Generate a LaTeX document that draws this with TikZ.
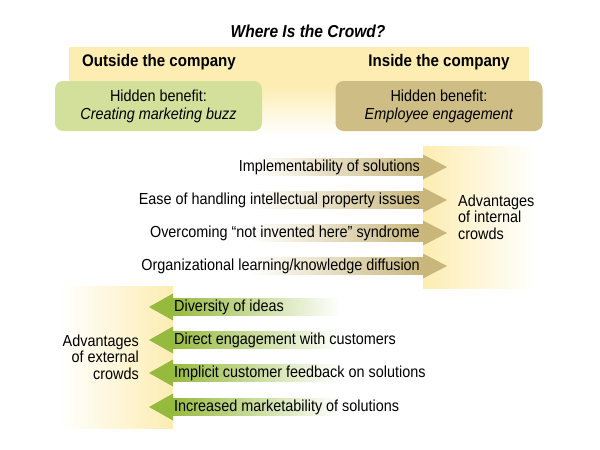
\documentclass[tikz,border=0pt]{standalone}
\usepackage{fontspec}
\setmainfont{Liberation Sans}[FakeStretch=0.9]
\definecolor{ylw}{RGB}{253,237,178}
\definecolor{grnbox}{RGB}{211,224,156}
\definecolor{tanbox}{RGB}{206,190,134}
\definecolor{tanarr}{RGB}{200,182,122}
\definecolor{grnarr}{RGB}{150,186,62}
\begin{document}
\begin{tikzpicture}[x=1pt,y=-1pt,
  txt/.style={font=\fontsize{16}{18}\selectfont, inner sep=0pt},
  hdr/.style={font=\fontsize{16.8}{18}\selectfont\bfseries, inner sep=0pt},
  hbox/.style={rounded corners=8pt, minimum width=207pt, minimum height=50pt, align=center,
    font=\fontsize{16}{18}\selectfont, inner sep=0pt}]
\useasboundingbox (0,0) rectangle (600,450);
\fill[white] (0,0) rectangle (600,450);
% header band
\fill[ylw] (69,47) rectangle (529,86);
\shade[top color=ylw,bottom color=white] (69,85.5) rectangle (529,135);
% title and headers
\node[font=\fontsize{17.3}{18}\selectfont\bfseries\itshape, inner sep=0pt] (title) at (308,31) {Where Is the Crowd?};
\node[hdr] (lh) at (159,62) {Outside the company};
\node[hdr] (rh) at (439,62) {Inside the company};
\node[hbox, fill=grnbox] (lbox) at (158.5,106) {Hidden benefit:\\\textit{Creating marketing buzz}};
\node[hbox, fill=tanbox] (rbox) at (439,106) {Hidden benefit:\\\textit{Employee engagement}};
% panels
\shade[left color=ylw,right color=white] (423,146) rectangle (535,288);
\shade[left color=white,right color=ylw] (58,286) rectangle (173,428);
% internal arrows
\foreach \yy in {167,200,233,266}{
  \shade[left color=white,right color=tanarr] (250,\yy-8.5) rectangle (424,\yy+8.5);
  \fill[tanarr] (423,\yy-12.5) -- (447,\yy) -- (423,\yy+12.5) -- cycle;
}
% external arrows
\foreach \yy in {307,340,373,407}{
  \shade[left color=grnarr,right color=white] (172,\yy-8.5) rectangle (340,\yy+8.5);
  \fill[grnarr] (173,\yy-13.5) -- (149,\yy) -- (173,\yy+13.5) -- cycle;
}
% internal texts
\node[txt, anchor=east] (i1) at (420,167) {Implementability of solutions};
\node[txt, anchor=east] (i2) at (420,200) {Ease of handling intellectual property issues};
\node[txt, anchor=east] (i3) at (420,233) {Overcoming “not invented here” syndrome};
\node[txt, anchor=east] (i4) at (420,266) {Organizational learning/knowledge diffusion};
\node[txt, anchor=west, align=left, font=\fontsize{16}{16.5}\selectfont] (iadv) at (458,217) {Advantages\\of internal\\crowds};
% external texts
\node[txt, anchor=west] (e1) at (174,307) {Diversity of ideas};
\node[txt, anchor=west] (e2) at (174,340) {Direct engagement with customers};
\node[txt, anchor=west] (e3) at (174,373) {Implicit customer feedback on solutions};
\node[txt, anchor=west] (e4) at (174,407) {Increased marketability of solutions};
\node[txt, anchor=east, align=right, font=\fontsize{16}{16.5}\selectfont] (eadv) at (139,357) {Advantages\\of external\\crowds};
\end{tikzpicture}
\end{document}
